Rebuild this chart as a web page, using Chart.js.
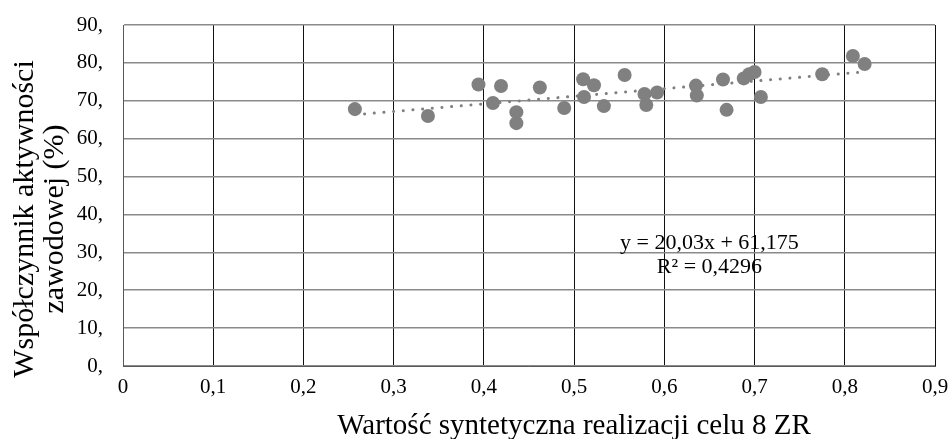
<!DOCTYPE html>
<html><head><meta charset="utf-8">
<script src="https://cdn.jsdelivr.net/npm/chart.js@4.4.0/dist/chart.umd.min.js"></script>
<style>html,body{margin:0;padding:0;background:#fff}#wrap{width:949px;height:439px}</style>
</head><body><div id="wrap"><canvas id="c" width="949" height="439"></canvas></div>
<script>
const xValues = [0.257,0.338,0.394,0.410,0.419,0.436,0.436,0.462,0.489,0.510,0.522,0.511,0.533,0.556,0.578,0.580,0.592,0.635,0.636,0.665,0.669,0.688,0.694,0.700,0.707,0.775,0.809,0.822];
const yValues = [67.8,66.0,74.3,69.4,73.9,67.0,64.1,73.5,68.1,75.7,74.1,71.0,68.6,76.8,71.8,68.9,72.2,74.0,71.4,75.6,67.6,75.9,77.0,77.6,71.0,77.0,81.8,79.7];
const xTicks = [0,0.1,0.2,0.3,0.4,0.5,0.6,0.7,0.8,0.9];
const yTicks = [0,10,20,30,40,50,60,70,80,90];
const trendSlope = 20.03, trendIntercept = 61.175;
const equationLabel = 'y = 20,03x + 61,175';
const r2Label = 'R² = 0,4296';
const xTitle = 'Wartość syntetyczna realizacji celu 8 ZR';
const yTitleLines = ['Współczynnik aktywności', 'zawodowej (%)'];

const FONT = '"Liberation Serif", "Times New Roman", serif';
const points = xValues.map((x, i) => ({x: x, y: yValues[i]}));
const xmin = Math.min(...xValues), xmax = Math.max(...xValues);
const trend = [xmin, xmax].map(x => ({x: x, y: trendSlope * x + trendIntercept}));

const textPlugin = {
  id: 'texts',
  afterDraw(chart) {
    const ctx = chart.ctx;
    const xs = chart.scales.x, ys = chart.scales.y;
    ctx.save();
    ctx.fillStyle = '#000';
    ctx.textAlign = 'center';
    ctx.textBaseline = 'middle';
    ctx.font = '22px ' + FONT;
    const ex = xs.getPixelForValue(0.65);
    ctx.fillText(equationLabel, ex, ys.getPixelForValue(32.4));
    ctx.fillText(r2Label, ex, ys.getPixelForValue(26.1));
    ctx.font = '29px ' + FONT;
    ctx.fillText(xTitle, 574, 426);
    ctx.translate(0, 219);
    ctx.rotate(-Math.PI / 2);
    ctx.font = '30px ' + FONT;
    ctx.fillText(yTitleLines[0], 0, 25);
    ctx.fillText(yTitleLines[1], 0, 55);
    ctx.restore();
  }
};

function noPad(s) { s.paddingLeft = 0; s.paddingRight = 0; s.paddingTop = 0; s.paddingBottom = 0; }

new Chart(document.getElementById('c'), {
  type: 'scatter',
  data: {
    datasets: [
      {data: points, order: 0, pointRadius: 7, pointHoverRadius: 7, backgroundColor: '#808080', borderWidth: 0, showLine: false},
      {type: 'line', data: trend, order: 1, showLine: true, pointRadius: 0, borderColor: '#808080', borderWidth: 3, borderDash: [0.1, 9.6], borderCapStyle: 'round', fill: false}
    ]
  },
  options: {
    responsive: false, animation: false, devicePixelRatio: 1,
    layout: {padding: {left: 0, right: 14, top: 25, bottom: 0}},
    plugins: {legend: {display: false}, tooltip: {enabled: false}},
    scales: {
      x: {
        type: 'linear', min: 0, max: 0.9,
        afterBuildTicks: s => { s.ticks = xTicks.map(v => ({value: v})); },
        afterFit: s => { s.height = 73; noPad(s); },
        ticks: {padding: 9, color: '#000', font: {family: FONT, size: 21}, maxRotation: 0,
          callback: v => v === 0 ? '0' : v.toFixed(1).replace('.', ',')},
        grid: {color: '#111', lineWidth: 1, drawTicks: false},
        border: {display: true, color: '#595959', width: 1}
      },
      y: {
        type: 'linear', min: 0, max: 90,
        afterBuildTicks: s => { s.ticks = yTicks.map(v => ({value: v})); },
        afterFit: s => { s.width = 123; noPad(s); },
        ticks: {padding: 20, color: '#000', font: {family: FONT, size: 21},
          callback: v => v + ','},
        grid: {color: '#8a8a8a', lineWidth: 1.5, drawTicks: false},
        border: {display: true, color: '#595959', width: 1}
      }
    }
  },
  plugins: [textPlugin]
});
</script></body></html>
